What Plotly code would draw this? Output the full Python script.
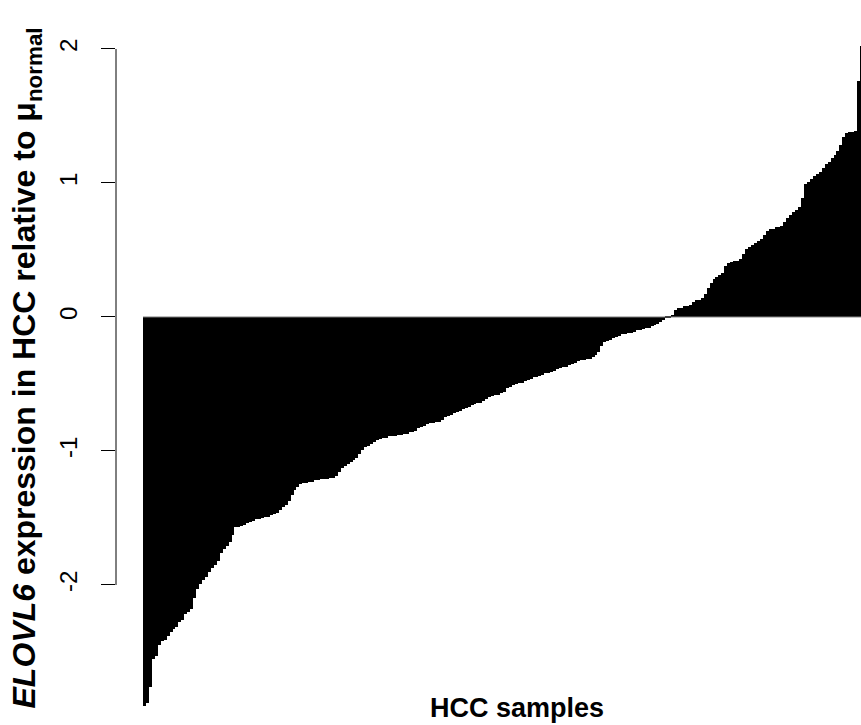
import plotly.graph_objects as go

# Relative ELOVL6 expression per HCC sample, sorted ascending
values = [
    -2.90, -2.88, -2.76, -2.55, -2.53, -2.45, -2.42, -2.41, -2.38, -2.35,
    -2.33, -2.31, -2.28, -2.26, -2.22, -2.20, -2.18, -2.10, -2.03, -1.99,
    -1.96, -1.94, -1.90, -1.87, -1.85, -1.82, -1.76, -1.73, -1.71, -1.68,
    -1.63, -1.57, -1.57, -1.56, -1.55, -1.54, -1.53, -1.52, -1.51, -1.51,
    -1.50, -1.49, -1.49, -1.48, -1.47, -1.46, -1.44, -1.42, -1.40, -1.37,
    -1.33, -1.29, -1.27, -1.25, -1.24, -1.24, -1.23, -1.23, -1.22, -1.22,
    -1.21, -1.21, -1.21, -1.20, -1.20, -1.19, -1.16, -1.13, -1.11, -1.10,
    -1.08, -1.07, -1.05, -1.02, -0.99, -0.97, -0.96, -0.95, -0.93, -0.92,
    -0.91, -0.90, -0.90, -0.89, -0.89, -0.89, -0.88, -0.88, -0.87, -0.87,
    -0.86, -0.86, -0.85, -0.83, -0.82, -0.81, -0.80, -0.79, -0.79, -0.78,
    -0.78, -0.77, -0.75, -0.74, -0.73, -0.72, -0.71, -0.70, -0.69, -0.68,
    -0.67, -0.66, -0.65, -0.64, -0.64, -0.63, -0.61, -0.60, -0.59, -0.58,
    -0.58, -0.57, -0.56, -0.53, -0.52, -0.51, -0.50, -0.49, -0.49, -0.48,
    -0.47, -0.46, -0.45, -0.45, -0.44, -0.43, -0.42, -0.42, -0.41, -0.40,
    -0.39, -0.38, -0.37, -0.37, -0.36, -0.35, -0.34, -0.33, -0.32, -0.32,
    -0.31, -0.31, -0.30, -0.28, -0.26, -0.22, -0.19, -0.18, -0.17, -0.16,
    -0.15, -0.14, -0.13, -0.13, -0.12, -0.12, -0.11, -0.10, -0.10, -0.09,
    -0.08, -0.08, -0.07, -0.06, -0.05, -0.04, -0.02, -0.01, -0.005, 0.01,
    0.05, 0.07, 0.07, 0.08, 0.08, 0.09, 0.11, 0.13, 0.13, 0.14,
    0.17, 0.22, 0.25, 0.28, 0.30, 0.31, 0.33, 0.38, 0.40, 0.41,
    0.42, 0.42, 0.43, 0.47, 0.51, 0.52, 0.54, 0.55, 0.57, 0.58,
    0.61, 0.64, 0.66, 0.66, 0.67, 0.67, 0.68, 0.71, 0.74, 0.76,
    0.78, 0.80, 0.82, 0.89, 0.99, 1.01, 1.03, 1.05, 1.07, 1.08,
    1.11, 1.14, 1.16, 1.19, 1.21, 1.24, 1.28, 1.34, 1.37, 1.38,
    1.38, 1.39, 1.76, 2.02,
]
samples = list(range(len(values)))
tick_vals = [-2, -1, 0, 1, 2]
tick_text = ["-2", "-1", "0", "1", "2"]

FONT = "Liberation Sans, Arial, sans-serif"

fig = go.Figure(
    go.Bar(
        x=samples,
        y=values,
        marker=dict(color="black", line=dict(width=0)),
        hoverinfo="skip",
    )
)

fig.update_layout(
    width=861,
    height=725,
    margin=dict(l=116, r=0, t=10, b=0),
    paper_bgcolor="white",
    plot_bgcolor="white",
    bargap=0,
    showlegend=False,
    font=dict(family=FONT, color="black"),
)

fig.update_xaxes(
    range=[-9.649, 242.81],
    showgrid=False,
    zeroline=False,
    showline=False,
    showticklabels=False,
    ticks="",
)

fig.update_yaxes(
    range=[-3.045, 2.291],
    showgrid=False,
    zeroline=False,
    showline=False,
    tickmode="array",
    tickvals=tick_vals,
    ticktext=tick_text,
    ticks="outside",
    ticklen=14,
    tickwidth=1,
    tickcolor="black",
    tickangle=-90,
    tickfont=dict(size=24, family=FONT, color="black"),
    ticklabelstandoff=14,
)

# y axis line spanning only the tick range (as in R)
fig.add_shape(type="line", xref="paper", yref="y", x0=0, x1=0,
              y0=tick_vals[0], y1=tick_vals[-1],
              line=dict(color="black", width=1))
# baseline under the bars
fig.add_shape(type="line", xref="x", yref="y", x0=-0.5, x1=len(values),
              y0=0, y1=0, line=dict(color="#808080", width=1))

fig.add_annotation(
    text="<b><i>ELOVL6</i> expression in HCC relative to μ<sub>normal</sub></b>",
    xref="paper", yref="paper", x=-0.1195, y=0.5,
    xanchor="center", yanchor="middle", textangle=-90, showarrow=False,
    font=dict(size=32, family=FONT, color="black"),
)
fig.add_annotation(
    text="<b>HCC samples</b>",
    xref="paper", yref="paper", x=0.538, y=0.024,
    xanchor="center", yanchor="middle", showarrow=False,
    font=dict(size=27, family=FONT, color="black"),
)

fig.write_html(
    "out.html",
    config={"displayModeBar": False},
    post_script="document.body.style.margin='0';document.body.style.overflow='hidden';",
)
